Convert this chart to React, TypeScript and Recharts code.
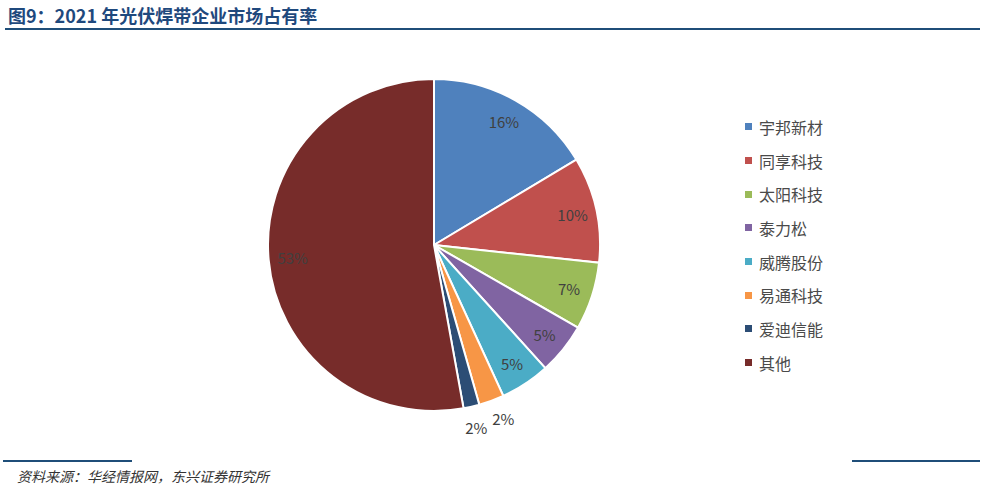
import { PieChart, Pie, Cell, Legend } from "recharts";

const companies = ["宇邦新材", "同享科技", "太阳科技", "泰力松", "威腾股份", "易通科技", "爱迪信能", "其他"];
const shares = [16.4, 10.3, 6.6, 5.0, 4.85, 2.45, 1.55, 52.85];
const colors = ["#4F81BD", "#C0504D", "#9BBB59", "#8064A2", "#4BACC6", "#F79646", "#2C4D75", "#772C2A"];

const data = companies.map((name, i) => ({ name, value: shares[i] }));

const RADIAN = Math.PI / 180;
const FONT = "'Noto Sans CJK SC', 'Noto Sans', sans-serif";

function renderLabel(props: any) {
  const { cx, cy, midAngle, outerRadius, percent, index } = props;
  // small slices get their label outside the pie, pushed slightly apart
  const outside = shares[index] < 3;
  const r = outside ? outerRadius + 21 : outerRadius * 0.855;
  const ang = midAngle + (outside && index === 5 ? 1.5 : 0);
  const x = cx + r * Math.cos(-ang * RADIAN);
  const y = cy + r * Math.sin(-ang * RADIAN);
  return (
    <text x={x} y={y} fill="#404040" fontSize={15} fontFamily={FONT} textAnchor="middle" dominantBaseline="central">
      {Math.round(percent * 100)}%
    </text>
  );
}

function LegendList() {
  return (
    <div style={{ fontFamily: FONT }}>
      {data.map((d, i) => (
        <div key={d.name} style={{ display: "flex", alignItems: "center", height: 33.7 }}>
          <span style={{ width: 7, height: 7, background: colors[i], marginRight: 7 }} />
          <span style={{ fontSize: 16, color: "#4a4a4a" }}>{d.name}</span>
        </div>
      ))}
    </div>
  );
}

export default function App() {
  return (
    <div style={{ position: "absolute", left: 0, top: 0, width: 988, height: 497, background: "#fff", overflow: "hidden" }}>
      <div style={{ position: "absolute", left: 8, top: 2, fontFamily: FONT, fontWeight: 700, fontSize: 18, color: "#1F497D" }}>
        图9：2021 年光伏焊带企业市场占有率
      </div>
      <div style={{ position: "absolute", left: 5, top: 28, width: 975, height: 2, background: "#1F4E79" }} />

      <PieChart width={988} height={497} margin={{ top: 0, right: 0, bottom: 0, left: 0 }} style={{ position: "absolute", left: 0, top: 0 }}>
        <Pie
          data={data}
          dataKey="value"
          nameKey="name"
          cx={434}
          cy={245}
          outerRadius={166}
          startAngle={90}
          endAngle={-270}
          stroke="#fff"
          strokeWidth={2}
          label={renderLabel}
          labelLine={false}
          isAnimationActive={false}
        >
          {data.map((_, i) => (
            <Cell key={i} fill={colors[i]} />
          ))}
        </Pie>
        <Legend
          layout="vertical"
          content={<LegendList />}
          wrapperStyle={{ position: "absolute", left: 745, top: 110, width: 150 }}
        />
      </PieChart>

      <div style={{ position: "absolute", left: 3, top: 460, width: 129, height: 2, background: "#1F4E79" }} />
      <div style={{ position: "absolute", left: 852, top: 460, width: 128, height: 2, background: "#1F4E79" }} />
      <div style={{ position: "absolute", left: 17, top: 466, fontFamily: FONT, fontStyle: "italic", fontSize: 14, color: "#333" }}>
        资料来源：华经情报网，东兴证券研究所
      </div>
    </div>
  );
}
